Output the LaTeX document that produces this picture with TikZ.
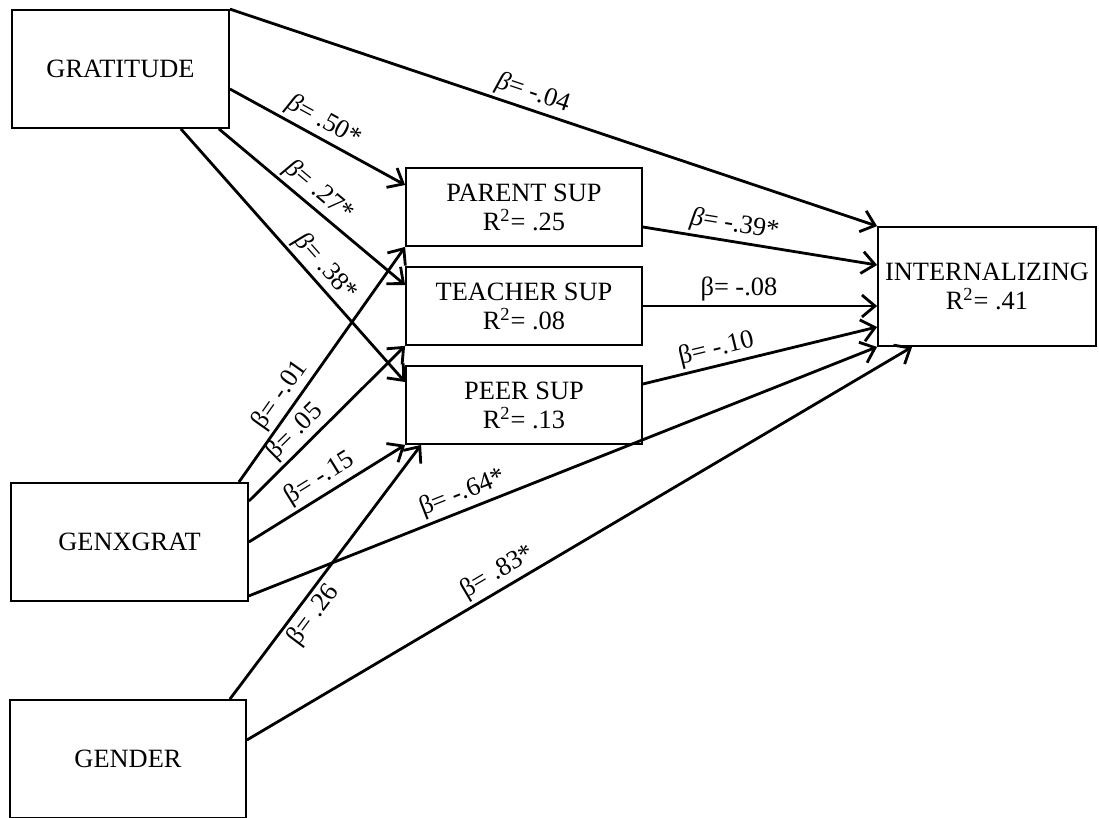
\documentclass[tikz,border=0pt]{standalone}
\usepackage{fontspec}
\setmainfont{Liberation Serif}
\usetikzlibrary{arrows.meta}
\tikzset{
	var/.style = {draw, line width = 0.9pt, inner sep = 0pt, align = center},
	conn/.style = {->, line width = 1.4pt},
	beta/.style = {sloped, above, inner sep = 1.5pt}
}
\newcommand{\betai}{\textit{β}}
\newcommand{\rsq}{R\textsuperscript{2}}
\begin{document}
\begin{tikzpicture} [x = 0.5pt, y = -0.5pt, >={Straight Barb[length=6.5pt,width=11pt]}, font = \fontsize{13.2}{14.5}\selectfont]
	\useasboundingbox (0,0) rectangle (1099,818);
	% predictors
	\node [var, minimum width = 108.5pt, minimum height = 59pt] (grat) at (120.5,69) {GRATITUDE};
	\node [var, minimum width = 118.5pt, minimum height = 59pt] (genx) at (129.5,542) {GENXGRAT};
	\node [var, minimum width = 118pt, minimum height = 59pt] (gender) at (128,759) {GENDER};
	% mediators
	\node [var, minimum width = 118pt, minimum height = 39pt] (parent) at (524,207) {PARENT SUP\\ \rsq= .25};
	\node [var, minimum width = 118pt, minimum height = 39pt] (teacher) at (524,306) {TEACHER SUP\\ \rsq= .08};
	\node [var, minimum width = 118pt, minimum height = 39pt] (peer) at (524,405) {PEER SUP\\ \rsq= .13};
	% outcome
	\node [var, minimum width = 109pt, minimum height = 59.5pt] (intern) at (987,286.5) {INTERNALIZING\\ \rsq= .41};
	% paths
	\draw [conn] (grat.north east) -- node [beta, pos = 0.46] {\betai= -.04} (intern.north west);
	\draw [conn] ([yshift = -10pt]grat.east) -- node [beta, pos = 0.49] {\betai= .50*} ([yshift = 11pt]parent.west);
	\draw [conn] ([xshift = -5.5pt]grat.south east) -- node [beta, pos = 0.48] {\betai= .27*} ([yshift = 10.5pt]teacher.west);
	\draw [conn] ([xshift = -24.5pt]grat.south east) -- node [beta, pos = 0.59] {\betai= .38*} ([yshift = 11.5pt]peer.west);
	\draw [conn] ([xshift = -5pt]genx.north east) -- node [beta, pos = 0.33] {β= -.01} (parent.south west);
	\draw [conn] ([yshift = -9.5pt]genx.north east) -- node [beta, pos = 0.37] {β= .05} (teacher.south west);
	\draw [conn] (genx.east) -- node [beta, pos = 0.51] {β= -.15} (peer.south west);
	\draw [conn] ([yshift = 3pt]genx.south east) -- node [beta, pos = 0.35] {β= -.64*} (intern.south west);
	\draw [conn] ([xshift = -8.5pt]gender.north east) -- node [beta, below, pos = 0.37] {β= .26} ([xshift = 8pt]peer.south west);
	\draw [conn] ([yshift = 9.5pt]gender.east) -- node [beta, pos = 0.39] {β= .83*} ([xshift = 17.5pt]intern.south west);
	\draw [conn] ([yshift = -10pt]parent.east) -- node [beta, pos = 0.38] {\betai= -.39*} ([yshift = 10.75pt]intern.west);
	\draw [conn] (teacher.east) -- node [beta, pos = 0.41] {β= -.08} (teacher.east -| intern.west);
	\draw [conn] ([yshift = 10.5pt]peer.east) -- node [beta, pos = 0.33] {β= -.10} ([yshift = -20.25pt]intern.west);
\end{tikzpicture}
\end{document}
